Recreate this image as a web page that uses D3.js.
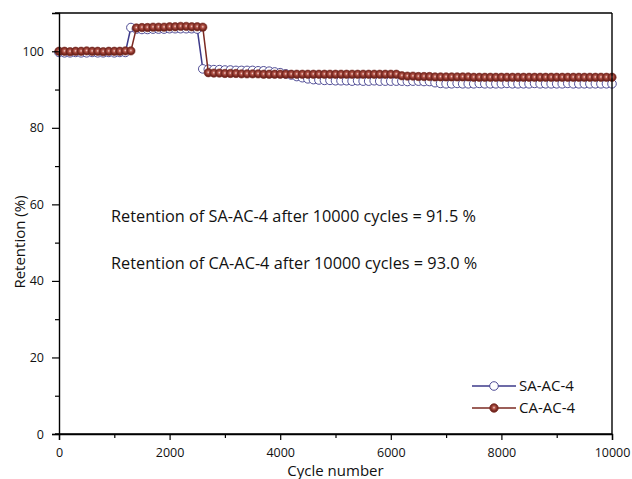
<!DOCTYPE html>
<html><head><meta charset="utf-8">
<script src="https://cdn.jsdelivr.net/npm/d3@7"></script>
<style>body{margin:0;background:#fff}svg{display:block}</style>
</head><body><svg id="c" width="632" height="479"></svg>
<script>
const cycles = [0,100,200,300,400,500,600,700,800,900,1000,1100,1200,1300,1400,1500,1600,1700,1800,1900,2000,2100,2200,2300,2400,2500,2600,2700,2800,2900,3000,3100,3200,3300,3400,3500,3600,3700,3800,3900,4000,4100,4200,4300,4400,4500,4600,4700,4800,4900,5000,5100,5200,5300,5400,5500,5600,5700,5800,5900,6000,6100,6200,6300,6400,6500,6600,6700,6800,6900,7000,7100,7200,7300,7400,7500,7600,7700,7800,7900,8000,8100,8200,8300,8400,8500,8600,8700,8800,8900,9000,9100,9200,9300,9400,9500,9600,9700,9800,9900,10000];
const saValues = [99.7,99.6,99.6,99.7,99.6,99.6,99.7,99.6,99.6,99.7,99.6,99.7,99.7,
  106.2,105.8,105.7,105.7,105.8,105.8,105.8,105.9,105.9,105.9,105.9,105.9,105.8,
  95.4,95.3,95.2,95.2,95.1,95.1,95.0,95.0,95.0,95.0,94.9,94.9,94.8,94.6,94.4,94.1,93.8,93.4,93.1,92.8,92.6,92.5,92.4,92.4,92.3,92.3,92.3,92.2,92.3,92.2,92.2,92.3,92.2,92.2,92.2,92.2,92.2,92.1,92.2,92.2,92.1,92.1,91.8,91.6,
  91.5,91.5,91.6,91.5,91.5,91.5,91.6,91.5,91.5,91.5,91.5,91.6,91.5,91.5,91.5,91.5,91.6,91.5,91.5,91.5,91.5,91.5,91.6,91.5,91.5,91.5,91.5,91.5,91.5,91.5,91.5];
const caValues = [100.0,100.0,99.9,100.0,100.0,100.1,100.0,100.0,99.9,100.0,100.0,100.0,100.1,100.1,
  106.1,106.2,106.2,106.3,106.3,106.3,106.4,106.4,106.5,106.5,106.4,106.4,106.3,
  94.4,94.3,94.3,94.2,94.2,94.2,94.1,94.1,94.1,94.1,94.0,94.0,94.0,94.0,94.0,94.0,94.0,94.0,94.0,94.0,94.0,94.0,94.0,94.0,94.0,94.0,94.0,94.0,94.0,94.0,94.0,94.0,94.0,94.0,94.0,
  93.6,93.5,93.5,93.4,93.4,93.4,93.3,93.3,93.3,93.3,93.3,93.3,93.3,93.2,93.2,93.2,93.2,93.2,93.2,93.2,93.2,93.2,93.2,93.2,93.2,93.2,93.2,93.2,93.2,93.2,93.2,93.2,93.2,93.2,93.2,93.2,93.2,93.2,93.2];
const seriesNames = ["SA-AC-4","CA-AC-4"];
const xTicks = [0,2000,4000,6000,8000,10000];
const xMinor = [1000,3000,5000,7000,9000];
const yTicks = [0,20,40,60,80,100];
const yMinor = [10,30,50,70,90];
const notes = ["Retention of SA-AC-4 after 10000 cycles = 91.5 %","Retention of CA-AC-4 after 10000 cycles = 93.0 %"];

const svg = d3.select("#c");
const W = 632, H = 479;
const m = {l:59, r:20, t:13, b:45};
const x = d3.scaleLinear().domain([0,10000]).range([m.l, W-m.r]);
const y = d3.scaleLinear().domain([0,110]).range([H-m.b, m.t]);
const font = "'Open Sans', sans-serif";
const saColor = "#3d3a8a", caColor = "#7b2a22";

const defs = svg.append("defs");
const g = defs.append("radialGradient").attr("id","ball").attr("cx","50%").attr("cy","45%").attr("r","55%");
g.append("stop").attr("offset","0%").attr("stop-color","#f4d8d4");
g.append("stop").attr("offset","30%").attr("stop-color","#b7584c");
g.append("stop").attr("offset","70%").attr("stop-color",caColor);
g.append("stop").attr("offset","100%").attr("stop-color","#5e1d17");

// series
const sa = cycles.map((c,i)=>({c, v:saValues[i]}));
const ca = cycles.map((c,i)=>({c, v:caValues[i]}));
const line = d3.line().x(d=>x(d.c)).y(d=>y(d.v));
svg.append("path").datum(sa).attr("d",line).attr("fill","none").attr("stroke",saColor).attr("stroke-width",1.5);
svg.append("g").selectAll("circle").data(sa).join("circle")
  .attr("cx",d=>x(d.c)).attr("cy",d=>y(d.v)).attr("r",4.3)
  .attr("fill","#fff").attr("stroke",saColor).attr("stroke-width",0.9);
svg.append("path").datum(ca).attr("d",line).attr("fill","none").attr("stroke",caColor).attr("stroke-width",1.5);
svg.append("g").selectAll("circle").data(ca).join("circle")
  .attr("cx",d=>x(d.c)).attr("cy",d=>y(d.v)).attr("r",4.2)
  .attr("fill","url(#ball)").attr("stroke",caColor).attr("stroke-width",0.6);

// axes
svg.append("g").attr("transform",`translate(0,${y(0)})`)
  .call(d3.axisBottom(x).tickValues(xTicks).tickSize(6).tickPadding(8).tickFormat(d3.format("d")));
svg.append("g").attr("transform",`translate(0,${y(0)})`)
  .call(d3.axisBottom(x).tickValues(xMinor).tickSize(4).tickFormat(""))
  .call(s=>s.select(".domain").remove());
svg.append("g").attr("transform",`translate(${m.l},0)`)
  .call(d3.axisLeft(y).tickValues(yTicks).tickSize(7).tickPadding(8));
svg.append("g").attr("transform",`translate(${m.l},0)`)
  .call(d3.axisLeft(y).tickValues(yMinor).tickSize(4).tickFormat(""))
  .call(s=>s.select(".domain").remove());
svg.selectAll(".domain").attr("stroke","#000").attr("stroke-width",1.4);
svg.selectAll(".tick line").attr("stroke","#000").attr("stroke-width",1.2);
svg.selectAll(".tick text").attr("font-family",font).attr("font-size",12.5).attr("fill","#111");
// frame top/right
svg.append("line").attr("x1",m.l-4).attr("x2",W-m.r).attr("y1",m.t).attr("y2",m.t).attr("stroke","#000").attr("stroke-width",1.4);
svg.append("line").attr("x1",W-m.r).attr("x2",W-m.r).attr("y1",m.t).attr("y2",y(0)).attr("stroke","#000").attr("stroke-width",1.4);
svg.append("line").attr("x1",m.l-4).attr("x2",W-m.r).attr("y1",y(0)).attr("y2",y(0)).attr("stroke","#000").attr("stroke-width",1.4);

// titles
svg.append("text").attr("x",(m.l+W-m.r)/2).attr("y",476).attr("text-anchor","middle")
  .attr("font-family",font).attr("font-size",15).attr("fill","#111").text("Cycle number");
svg.append("text").attr("transform",`translate(25,242) rotate(-90)`).attr("text-anchor","middle")
  .attr("font-family",font).attr("font-size",15).attr("fill","#111").text("Retention (%)");

// notes
svg.selectAll(".note").data(notes).join("text").attr("class","note")
  .attr("x",111).attr("y",(d,i)=>222+i*47)
  .attr("font-family",font).attr("font-size",16.3).attr("fill","#111").text(d=>d);

// legend
const leg = [{n:seriesNames[0], col:saColor, fill:"#fff", r:4.3}, {n:seriesNames[1], col:caColor, fill:"url(#ball)", r:4.2}];
const lg = svg.append("g").selectAll("g").data(leg).join("g")
  .attr("transform",(d,i)=>`translate(0,${386+i*22})`);
lg.append("line").attr("x1",472).attr("x2",516).attr("stroke",d=>d.col).attr("stroke-width",1.5);
lg.append("circle").attr("cx",494).attr("r",d=>d.r).attr("fill",d=>d.fill).attr("stroke",d=>d.col).attr("stroke-width",0.9);
lg.append("text").attr("x",519).attr("y",5).attr("font-family",font).attr("font-size",15).attr("fill","#111").text(d=>d.n);
</script></body></html>
